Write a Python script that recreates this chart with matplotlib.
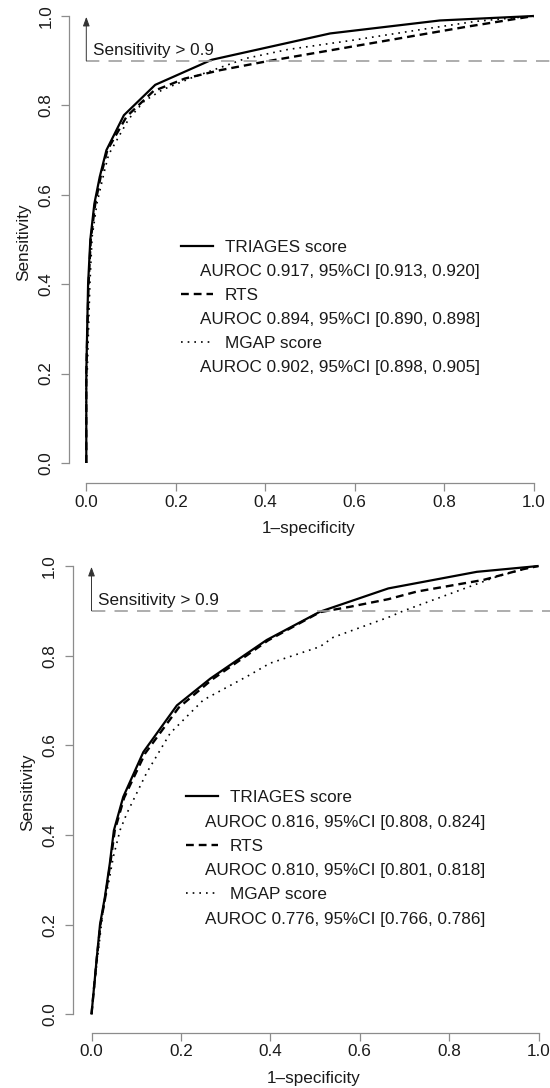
import matplotlib.pyplot as plt

plt.rcParams['font.family'] = ['Liberation Sans', 'DejaVu Sans']

W, H = 550, 1088

# ---- panel A (top) ----
a_triages_x = [0, 0.0, 0.004, 0.009, 0.018, 0.03, 0.045, 0.084, 0.154, 0.28, 0.545, 0.79, 1.0]
a_triages_y = [0, 0.2, 0.4, 0.5, 0.58, 0.64, 0.70, 0.778, 0.846, 0.902, 0.961, 0.99, 1.0]
a_rts_x = [0, 0.0, 0.005, 0.01, 0.02, 0.032, 0.047, 0.09, 0.15, 0.22, 0.3, 0.4, 0.55, 0.7, 0.85, 1.0]
a_rts_y = [0, 0.2, 0.4, 0.5, 0.58, 0.64, 0.70, 0.775, 0.832, 0.86, 0.879, 0.898, 0.924, 0.95, 0.976, 1.0]
a_mgap_x = [0, 0.0, 0.002, 0.008, 0.013, 0.024, 0.041, 0.05, 0.095, 0.13, 0.17, 0.236, 0.3, 0.356,
            0.45, 0.59, 0.75, 0.87, 1.0]
a_mgap_y = [0, 0.18, 0.2, 0.4, 0.506, 0.582, 0.655, 0.69, 0.77, 0.81, 0.835, 0.862, 0.885, 0.905,
            0.925, 0.945, 0.97, 0.988, 1.0]
a_auroc = ['AUROC 0.917, 95%CI [0.913, 0.920]',
           'AUROC 0.894, 95%CI [0.890, 0.898]',
           'AUROC 0.902, 95%CI [0.898, 0.905]']

# ---- panel B (bottom) ----
b_triages_x = [0, 0.012, 0.019, 0.03, 0.041, 0.05, 0.071, 0.116, 0.191, 0.266, 0.345, 0.392,
               0.511, 0.664, 0.862, 1.0]
b_triages_y = [0, 0.128, 0.2, 0.262, 0.337, 0.41, 0.485, 0.585, 0.689, 0.749, 0.803, 0.835,
               0.898, 0.950, 0.987, 1.0]
b_rts_x = [0, 0.012, 0.02, 0.031, 0.042, 0.052, 0.073, 0.12, 0.195, 0.27, 0.348, 0.395, 0.511,
           0.578, 0.664, 0.728, 0.877, 0.966, 1.0]
b_rts_y = [0, 0.126, 0.2, 0.262, 0.336, 0.41, 0.483, 0.582, 0.684, 0.747, 0.801, 0.834, 0.897,
           0.909, 0.926, 0.943, 0.969, 0.993, 1.0]
b_mgap_x = [0, 0.012, 0.019, 0.026, 0.038, 0.049, 0.064, 0.079, 0.123, 0.176, 0.25, 0.354,
            0.399, 0.511, 0.541, 0.668, 0.698, 0.906, 0.974, 1.0]
b_mgap_y = [0, 0.114, 0.173, 0.233, 0.292, 0.352, 0.411, 0.448, 0.538, 0.627, 0.701, 0.757,
            0.783, 0.82, 0.841, 0.887, 0.9, 0.976, 0.995, 1.0]
b_auroc = ['AUROC 0.816, 95%CI [0.808, 0.824]',
           'AUROC 0.810, 95%CI [0.801, 0.818]',
           'AUROC 0.776, 95%CI [0.766, 0.786]']

names = ['TRIAGES score', 'RTS', 'MGAP score']
ticks = [0.0, 0.2, 0.4, 0.6, 0.8, 1.0]
tick_labels = ['0.0', '0.2', '0.4', '0.6', '0.8', '1.0']
cutoff = 0.9

styles = [dict(color='black', lw=1.6, linestyle='-'),
          dict(color='black', lw=1.7, linestyle=(0, (3.3, 2.1))),
          dict(color='black', lw=1.2, linestyle=(0, (1, 3)))]

FS = 12.3
TXT = '#1a1a1a'
AXC = '#8c8c8c'
XLIM = (-0.045, 1.04)
YLIM = (-0.05, 1.04)


def place(fig, x0, sx, y0, sy):
    # x0/y0: pixel of data 0, sx/sy: pixels per unit
    left = (x0 + XLIM[0] * sx) / W
    right = (x0 + XLIM[1] * sx) / W
    top_px = y0 - YLIM[1] * sy
    bot_px = y0 - YLIM[0] * sy
    return fig.add_axes([left, 1 - bot_px / H, right - left, (bot_px - top_px) / H])


def panel(ax, curves, aurocs, yspine, xspine):
    for (x, y), st in zip(curves, styles):
        ax.plot(x, y, solid_capstyle='butt', dash_capstyle='butt', **st)

    ax.hlines(cutoff, 0, XLIM[1], color='#a0a0a0', lw=1.2, linestyle=(0, (8, 5.5)))
    ax.annotate('', xy=(0, 0.998), xytext=(0, cutoff),
                arrowprops=dict(arrowstyle='-|>,head_length=0.55,head_width=0.2',
                                color='#333333', lw=0.7, shrinkA=0, shrinkB=0))
    ax.text(0.0148, 0.913, 'Sensitivity > 0.9', fontsize=FS, color=TXT, va='baseline')

    # legend drawn like R's legend()
    rows = [0.486, 0.432, 0.378, 0.324, 0.270, 0.216]
    for i, (nm, au) in enumerate(zip(names, aurocs)):
        ya = rows[2 * i]
        ax.plot([0.212, 0.283], [ya, ya], **styles[i])
        ax.text(0.31, ya - 0.0135, nm, fontsize=FS, color=TXT, va='baseline')
        ax.text(0.255, rows[2 * i + 1] - 0.0135, au, fontsize=FS, color=TXT, va='baseline')

    ax.set_xlim(*XLIM)
    ax.set_ylim(*YLIM)
    for s in ['top', 'right']:
        ax.spines[s].set_visible(False)
    ax.spines['left'].set_position(('data', yspine))
    ax.spines['bottom'].set_position(('data', xspine))
    ax.spines['left'].set_bounds(0, 1)
    ax.spines['bottom'].set_bounds(0, 1)
    for s in ['left', 'bottom']:
        ax.spines[s].set_color(AXC)
        ax.spines[s].set_linewidth(0.9)
    ax.set_xticks(ticks)
    ax.set_xticklabels(tick_labels, fontsize=FS, color=TXT)
    ax.set_yticks(ticks)
    ax.set_yticklabels(tick_labels, fontsize=FS, color=TXT, rotation=90, va='center')
    ax.tick_params(length=5.5, width=0.9, color=AXC)
    ax.tick_params(axis='x', pad=3)
    ax.tick_params(axis='y', pad=6)
    ax.set_xlabel('1\u2013specificity', fontsize=FS, color=TXT, labelpad=8)
    ax.set_ylabel('Sensitivity', fontsize=FS, color=TXT, labelpad=5)
    ax.patch.set_alpha(0)


fig = plt.figure(figsize=(W / 100, H / 100), dpi=100)

ax1 = place(fig, 86.3, 447.5, 463.0, 447.0)
panel(ax1, [(a_triages_x, a_triages_y), (a_rts_x, a_rts_y), (a_mgap_x, a_mgap_y)],
      a_auroc, -0.038, -0.045)

ax2 = place(fig, 91.5, 447.0, 1014.3, 448.3)
panel(ax2, [(b_triages_x, b_triages_y), (b_rts_x, b_rts_y), (b_mgap_x, b_mgap_y)],
      b_auroc, -0.041, -0.041)

fig.savefig('out.png', dpi=100)
